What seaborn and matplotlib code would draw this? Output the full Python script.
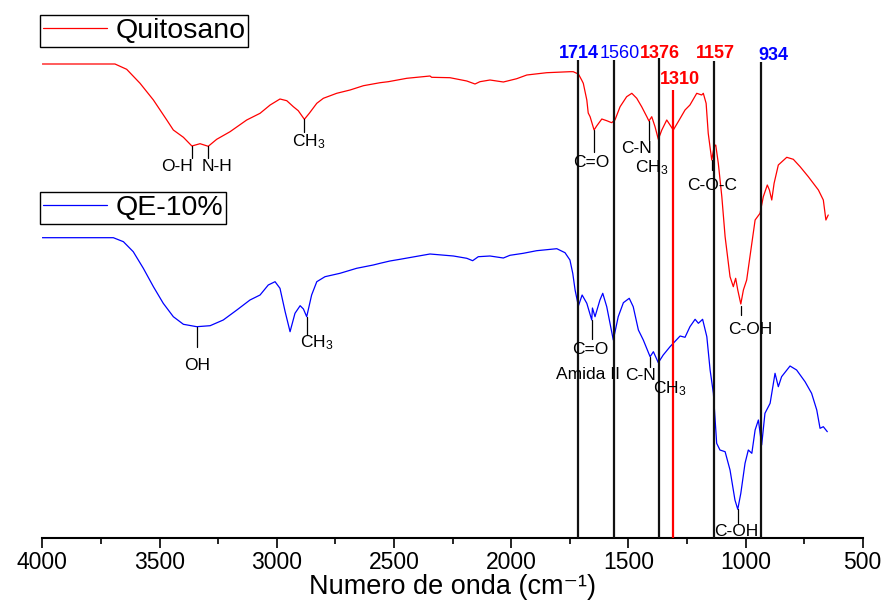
import matplotlib
matplotlib.use("Agg")
import matplotlib.pyplot as plt
from matplotlib.lines import Line2D
from matplotlib.ticker import MultipleLocator
import pandas as pd
import seaborn as sns

# ---------------- data ----------------
series_names = ["Quitosano", "QE-10%"]

wn_quitosano = [4000, 3690, 3640, 3583, 3526, 3469, 3441, 3398, 3362, 3327, 3292, 3256,
                3199, 3128, 3071, 3028, 2986, 2957, 2929, 2908, 2882, 2861, 2829, 2801,
                2744, 2687, 2630, 2559, 2524, 2445, 2346, 2339, 2261, 2189, 2154, 2133,
                2090, 2033, 1976, 1933, 1848, 1749, 1735, 1720, 1713, 1699, 1692, 1677,
                1671, 1663, 1646, 1635, 1613, 1592, 1571, 1557, 1535, 1507, 1485, 1464,
                1443, 1421, 1412, 1400, 1386, 1372, 1357, 1336, 1322, 1308, 1287, 1258,
                1237, 1208, 1187, 1180, 1168, 1159, 1144, 1134, 1127, 1116, 1101, 1087,
                1066, 1052, 1042, 1033, 1020, 1009, 995, 973, 959, 938, 924, 907, 898,
                888, 878, 860, 824, 796, 767, 732, 689, 668, 657, 647]
t_quitosano = [474, 474, 468.7, 454.7, 438, 418, 408, 400.7, 392, 394.3, 391.7, 398.7,
               406.3, 418, 424.7, 433, 439, 437.3, 431.3, 427.3, 418.7, 424.7, 434.7, 439.7,
               444.7, 448, 452.3, 455.3, 456.3, 459.7, 462, 460.7, 460.3, 457, 454, 456.3,
               458, 456, 459.3, 463, 465.3, 466.3, 466.3, 464.7, 464, 458, 454.7, 438,
               425, 421.3, 408, 412, 419, 417.3, 415.3, 418, 431.3, 441.3, 444.7, 439.7,
               431.3, 421.3, 417, 421.3, 411.3, 398.7, 408, 418, 413, 408, 416.3, 428,
               433, 444.7, 443, 444.7, 434.7, 404.7, 378, 391.3, 393, 374.7, 341.3, 301.3,
               261.3, 251.3, 259.7, 248, 234, 248, 258, 294.7, 318, 324.7, 341.3, 353, 348,
               338, 354.7, 373, 380.7, 378.7, 371.3, 361.3, 348, 338, 318, 323]

wn_qe10 = [4000, 3697, 3654, 3612, 3569, 3526, 3484, 3441, 3398, 3341, 3284, 3228, 3170,
           3114, 3071, 3036, 3007, 2986, 2964, 2943, 2922, 2900, 2886, 2872, 2851, 2829,
           2794, 2730, 2659, 2588, 2559, 2517, 2474, 2346, 2246, 2189, 2164, 2140, 2090,
           2033, 2005, 1948, 1891, 1805, 1770, 1749, 1737, 1727, 1713, 1697, 1677, 1656,
           1653, 1642, 1621, 1609, 1592, 1564, 1543, 1521, 1496, 1479, 1457, 1436, 1407,
           1393, 1372, 1351, 1322, 1279, 1258, 1237, 1215, 1201, 1183, 1165, 1151, 1137,
           1123, 1109, 1087, 1066, 1045, 1033, 1020, 1002, 988, 973, 959, 945, 931, 917,
           895, 874, 860, 846, 810, 782, 746, 718, 696, 682, 668, 651]
t_qe10 = [300.3, 300.3, 296.3, 286.3, 269.7, 251.3, 234.7, 221.3, 213.7, 211.3, 212.3, 218,
          228, 238, 243, 253, 256.3, 249.7, 226.3, 206.3, 224.7, 232.3, 229, 221.3, 243,
          256.3, 261.3, 264.7, 269.7, 273, 274.7, 277, 278.7, 284, 282, 279.7, 277.3, 281.3,
          282, 280, 282.7, 284.7, 287.3, 289.3, 285.3, 278, 264.7, 248, 232, 243, 234.7,
          218, 230, 221.3, 238, 244.7, 231.3, 198, 221.3, 235.3, 239.7, 231.3, 208, 198,
          181.3, 186.3, 175.3, 183, 191.3, 202, 200.7, 211.3, 218.7, 214.7, 218.7, 201.3,
          168, 144.7, 94.7, 88, 86.3, 68, 38, 28.7, 44.7, 74.7, 88, 84.7, 108, 118, 93,
          124.7, 134.7, 164.7, 151.3, 161.3, 172, 168, 156.3, 144.7, 128, 109.7, 111.3, 106.3]

band_positions = [1714, 1560, 1368, 1310, 1134, 934]
band_labels = ["1714", "1560", "1376", "1310", "1157", "934"]
x_ticks = [4000, 3500, 3000, 2500, 2000, 1500, 1000, 500]

# ---------------- build table ----------------
df = pd.concat([
    pd.DataFrame({"wn": wn_quitosano, "t": t_quitosano, "sample": series_names[0]}),
    pd.DataFrame({"wn": wn_qe10, "t": t_qe10, "sample": series_names[1]}),
], ignore_index=True)

sns.set_theme(style="white")
plt.rcParams["font.family"] = ["Liberation Sans", "DejaVu Sans"]
plt.rcParams["mathtext.fontset"] = "custom"
plt.rcParams["mathtext.rm"] = "Liberation Sans"
plt.rcParams["mathtext.it"] = "Liberation Sans:italic"
plt.rcParams["mathtext.bf"] = "Liberation Sans:bold"
plt.rcParams["text.color"] = "black"
plt.rcParams["axes.labelcolor"] = "black"
plt.rcParams["xtick.color"] = "black"
plt.rcParams["xtick.labelcolor"] = "black"

W, H = 885, 606
fig = plt.figure(figsize=(W / 100, H / 100), dpi=100)
ax = fig.add_axes([42.3 / W, 68 / H, 820.4 / W, 538 / H])

colors = {"Quitosano": "#ff0000", "QE-10%": "#0000ff"}
sns.lineplot(data=df, x="wn", y="t", hue="sample", palette=colors, estimator=None,
             linewidth=0.9, legend=False, ax=ax)

ax.set_xlim(4000, 500)
ax.set_ylim(0, 538)
ax.set_yticks([])
ax.set_ylabel("")
for s in ["left", "right", "top"]:
    ax.spines[s].set_visible(False)
ax.spines["bottom"].set_color("black")
ax.spines["bottom"].set_linewidth(1.5)
ax.set_xticks(x_ticks)
ax.set_xticklabels([str(v) for v in x_ticks])
ax.xaxis.set_minor_locator(MultipleLocator(250))
ax.tick_params(axis="x", which="major", direction="out", length=7.5, width=1.2,
               color="black", labelcolor="black", labelsize=16.5, pad=2, bottom=True)
ax.tick_params(axis="x", which="minor", direction="out", length=4, width=1.2,
               color="black", bottom=True)
ax.set_xlabel("Numero de onda (cm\u207b\u00b9)", fontsize=19.5, labelpad=0, color="black")

# vertical band lines
line_tops = [478, 478, 480, 448, 477, 476]
line_cols = ["#111111", "#111111", "#111111", "#ff0000", "#111111", "#111111"]
ax.vlines(band_positions, 0, line_tops, colors=line_cols, linewidth=1.6, zorder=3)

# band labels
lab_x = [1712, 1535, 1365, 1281, 1130, 883]
lab_y = [485, 485, 485, 458, 485, 482]
lab_c = ["#0000ff", "#0000ff", "#ff0000", "#ff0000", "#ff0000", "#0000ff"]
lab_w = ["bold", "normal", "bold", "bold", "bold", "bold"]
for x, y, s, c, w in zip(lab_x, lab_y, band_labels, lab_c, lab_w):
    ax.text(x, y, s, color=c, fontweight=w, fontsize=13, ha="center", va="center", zorder=5)

# peak assignment ticks
ticks = [(3362, 392, 380), (3292, 391.7, 380), (2882, 418.7, 406), (1646, 408, 386),
         (1412, 417, 398), (1144, 378, 368), (1020, 232, 223),
         (3341, 211.3, 191), (2872, 221, 203), (1656, 218, 199), (1407, 181, 171),
         (1033, 28.7, 15)]
for x, y0, y1 in ticks:
    ax.plot([x, x], [y0, y1], color="black", linewidth=0.9, zorder=4)

fs = 12.5
plain = [(3425, 371.3, "O-H"), (3256, 371.3, "N-H"), (1656, 375.3, "C=O"),
         (1463, 389.7, "C-N"), (1144, 352, "C-O-C"), (981, 208.7, "C-OH"),
         (3341, 173, "OH"), (1662, 188.7, "C=O"), (1672, 163.7, "Amida II"),
         (1446, 163, "C-N"), (1041, 6.3, "C-OH")]
for x, y, s in plain:
    ax.text(x, y, s, fontsize=fs, ha="center", va="center", color="black", zorder=5)

ch3 = [(2862, 392), (1399, 365.3), (2828, 190.3), (1322, 144.7)]
for x, y in ch3:
    ax.text(x, y, r"CH$_3$", fontsize=fs, ha="center", va="baseline", color="black", zorder=5)

# legends
h1 = [Line2D([], [], color=colors["Quitosano"], linewidth=0.9)]
h2 = [Line2D([], [], color=colors["QE-10%"], linewidth=0.9)]
leg_kw = dict(loc="upper left", bbox_transform=fig.transFigure, fontsize=20.5,
              frameon=True, fancybox=False, borderaxespad=0, borderpad=0.1,
              handlelength=2.25, handletextpad=0.3, labelcolor="black")
leg1 = ax.legend(h1, ["Quitosano"], bbox_to_anchor=(40 / W, 1 - 15 / H), **leg_kw)
leg2 = ax.legend(h2, ["QE-10%"], bbox_to_anchor=(40 / W, 1 - 192 / H), **leg_kw)
ax.add_artist(leg1)
for lg in (leg1, leg2):
    fr = lg.get_frame()
    fr.set_edgecolor("black")
    fr.set_linewidth(1.0)
    fr.set_facecolor("white")
    fr.set_alpha(1)

fig.savefig("out.png", dpi=100, facecolor="white")
